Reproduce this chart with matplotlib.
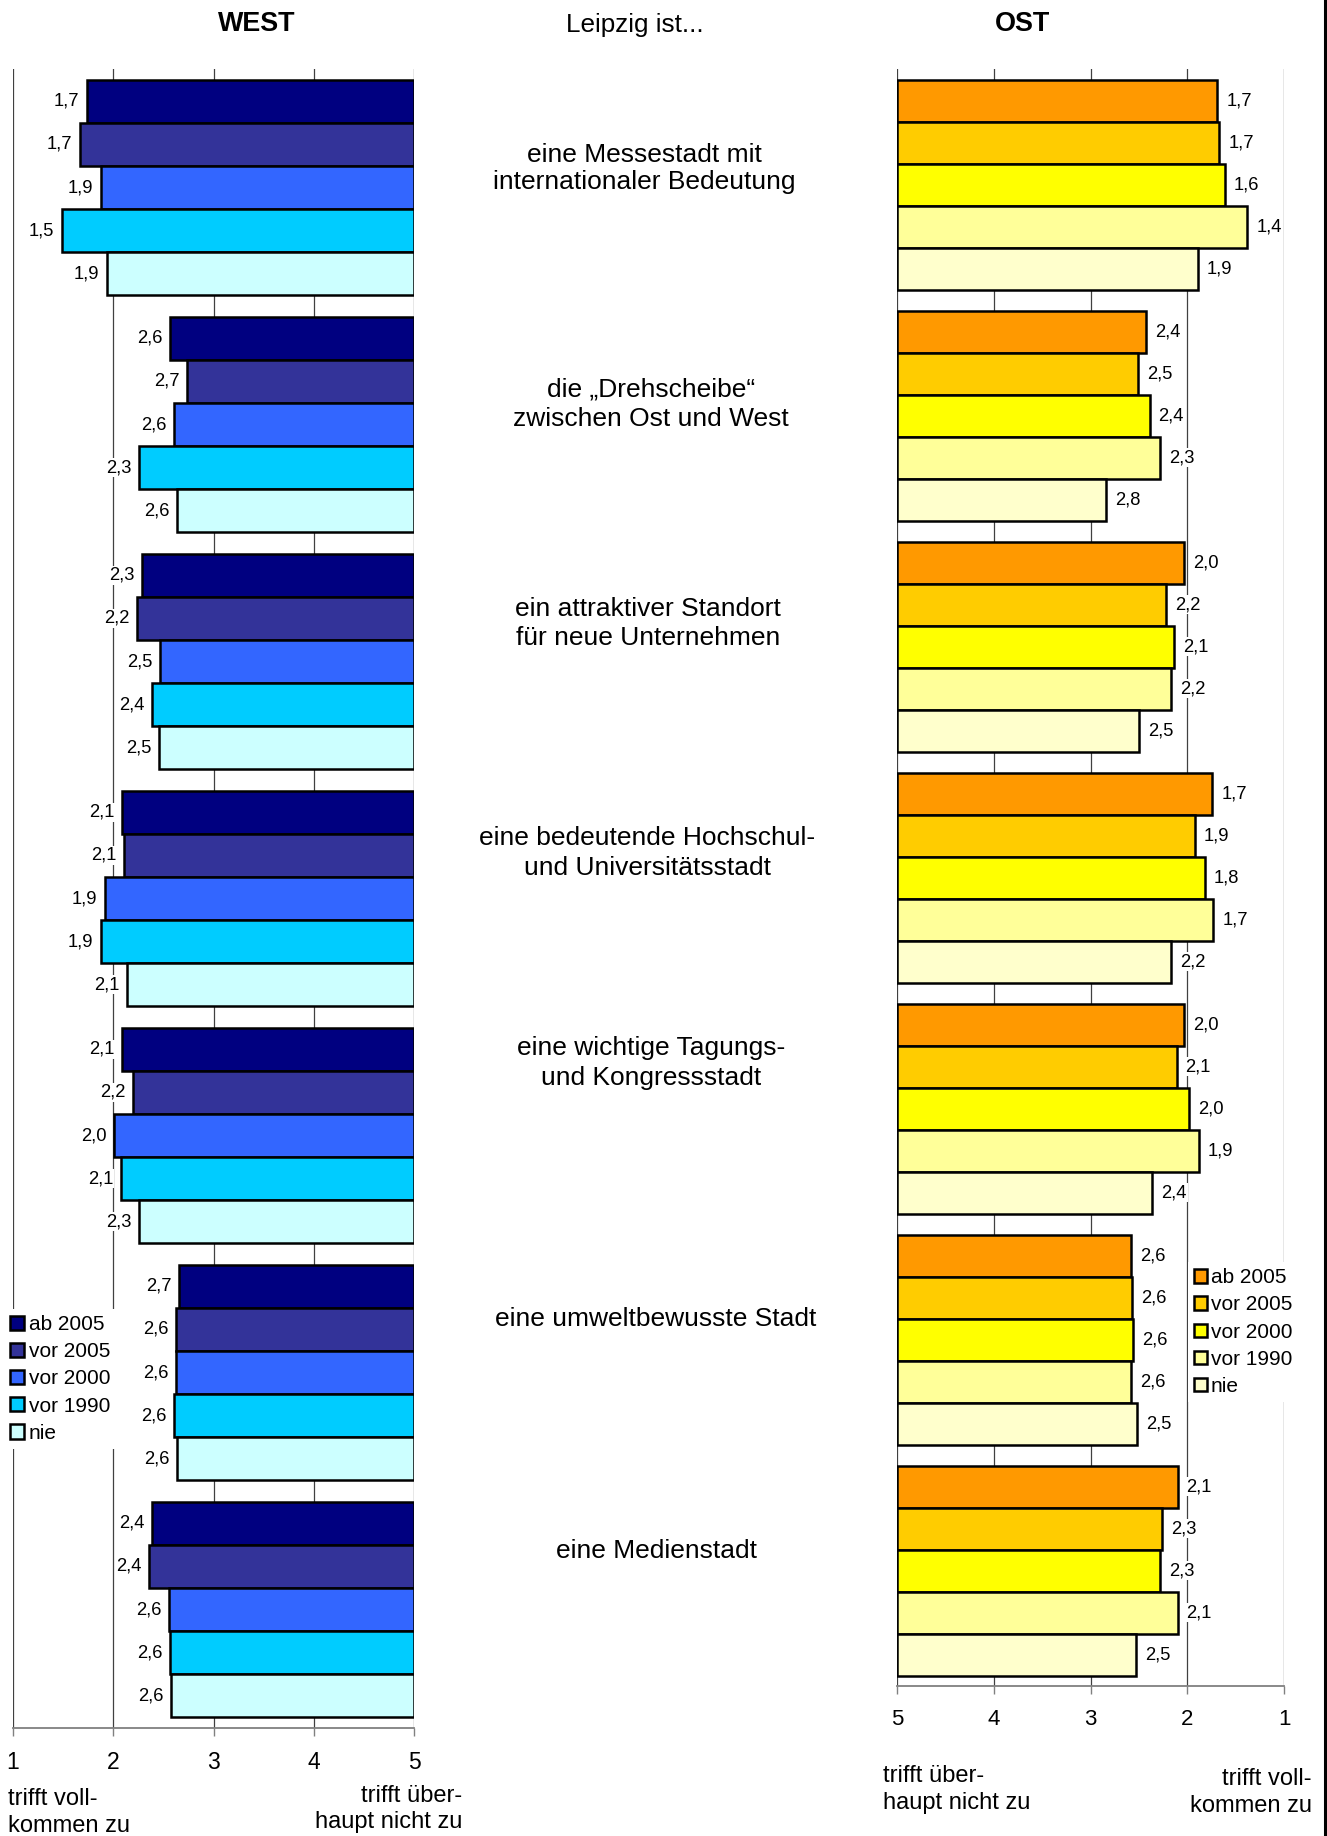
import matplotlib
matplotlib.use("Agg")
import matplotlib.pyplot as plt
from matplotlib import font_manager as fm
from matplotlib.lines import Line2D
import numpy as np

fm.fontManager.ttflist = [f for f in fm.fontManager.ttflist
                          if "narrow" not in f.fname.lower() and "narrow" not in f.name.lower()]
try:
    fm.fontManager._findfont_cached.cache_clear()
except Exception:
    pass

plt.rcParams['font.family'] = ['Liberation Sans', 'DejaVu Sans']

W, H, DPI = 1327, 1836, 100

# ---------------- data ----------------
categories = [
    "eine Messestadt mit\ninternationaler Bedeutung",
    "die \u201eDrehscheibe\u201c\nzwischen Ost und West",
    "ein attraktiver Standort\nfür neue Unternehmen",
    "eine bedeutende Hochschul-\nund Universitätsstadt",
    "eine wichtige Tagungs-\nund Kongressstadt",
    "eine umweltbewusste Stadt",
    "eine Medienstadt",
]
series = ["ab 2005", "vor 2005", "vor 2000", "vor 1990", "nie"]

west_ab2005 = [1.74, 2.57, 2.29, 2.09, 2.09, 2.66, 2.39]
west_vor2005 = [1.67, 2.74, 2.24, 2.11, 2.20, 2.63, 2.36]
west_vor2000 = [1.88, 2.61, 2.47, 1.92, 2.01, 2.63, 2.56]
west_vor1990 = [1.49, 2.26, 2.39, 1.88, 2.08, 2.61, 2.57]
west_nie = [1.94, 2.64, 2.46, 2.14, 2.26, 2.64, 2.58]

ost_ab2005 = [1.69, 2.43, 2.03, 1.74, 2.03, 2.58, 2.10]
ost_vor2005 = [1.67, 2.51, 2.22, 1.92, 2.11, 2.57, 2.26]
ost_vor2000 = [1.61, 2.39, 2.14, 1.82, 1.98, 2.56, 2.28]
ost_vor1990 = [1.38, 2.28, 2.17, 1.73, 1.88, 2.58, 2.10]
ost_nie = [1.89, 2.84, 2.50, 2.17, 2.36, 2.52, 2.53]

scale_ticks = [1, 2, 3, 4, 5]

west_colors = ["#000080", "#333399", "#3366FF", "#00CCFF", "#CCFFFF"]
ost_colors = ["#FF9900", "#FFCC00", "#FFFF00", "#FFFF99", "#FFFFCC"]

west_data = [west_ab2005, west_vor2005, west_vor2000, west_vor1990, west_nie]
ost_data = [ost_ab2005, ost_vor2005, ost_vor2000, ost_vor1990, ost_nie]


def fx(px):
    return px / W


def fy(py):
    return 1 - py / H


def rect(left, top, right, bottom):
    return [left / W, 1 - bottom / H, (right - left) / W, (bottom - top) / H]


def fmt(v):
    return f"{v:.1f}".replace(".", ",")


fig = plt.figure(figsize=(W / DPI, H / DPI), dpi=DPI)
fig.patch.set_facecolor("white")

axW = fig.add_axes(rect(13, 69, 414, 1728))
axO = fig.add_axes(rect(897, 69, 1284, 1686))

bh = 1 / 5.5
ypos = np.arange(len(categories))


def draw_panel(ax, data, colors, side, tick_fs, tick_pad):
    for j, (vals, col, lab) in enumerate(zip(data, colors, series)):
        vals = np.array(vals)
        pos = ypos + (j - 2) * bh
        ax.barh(pos, 5 - vals, left=vals, height=bh, color=col,
                edgecolor="black", linewidth=1.8, label=lab, zorder=2)
        for v, p in zip(vals, pos):
            if side == "west":
                ax.annotate(fmt(v), xy=(v, p), xytext=(-8, 0),
                            textcoords="offset pixels", ha="right", va="center",
                            fontsize=13.2, zorder=3,
                            bbox=dict(facecolor="white", edgecolor="none", pad=0.6))
            else:
                ax.annotate(fmt(v), xy=(v, p), xytext=(9, 0),
                            textcoords="offset pixels", ha="left", va="center",
                            fontsize=13.2, zorder=3,
                            bbox=dict(facecolor="white", edgecolor="none", pad=0.6))
    ax.set_ylim(len(categories) - 0.5, -0.5)
    if side == "west":
        ax.set_xlim(1, 5)
    else:
        ax.set_xlim(5, 1)
    ax.set_xticks(scale_ticks)
    ax.set_xticklabels([str(t) for t in scale_ticks])
    ax.set_yticks([])
    ax.grid(axis="x", color="#404040", linewidth=0.9)
    ax.set_axisbelow(True)
    for s in ["left", "right", "top"]:
        ax.spines[s].set_visible(False)
    ax.spines["bottom"].set_color("#808080")
    ax.spines["bottom"].set_linewidth(1.3)
    ax.tick_params(axis="x", direction="out", length=5.5, width=1.0,
                   color="#808080", labelsize=tick_fs, pad=tick_pad)
    ax.set_facecolor("none")


draw_panel(axW, west_data, west_colors, "west", 16.5, 11)
draw_panel(axO, ost_data, ost_colors, "ost", 16, 11)

# legends
legW = axW.legend(loc="center left", bbox_to_anchor=(fx(4), fy(1379)),
                  bbox_transform=fig.transFigure, fontsize=15, frameon=True,
                  facecolor="white", edgecolor="none", framealpha=1, fancybox=False,
                  handlelength=0.68, handleheight=0.68, handletextpad=0.22,
                  labelspacing=0.39, borderpad=0.3, borderaxespad=0)
legO = axO.legend(loc="center left", bbox_to_anchor=(fx(1188), fy(1332)),
                  bbox_transform=fig.transFigure, fontsize=15, frameon=True,
                  facecolor="white", edgecolor="none", framealpha=1, fancybox=False,
                  handlelength=0.6, handleheight=0.6, handletextpad=0.2,
                  labelspacing=0.39, borderpad=0.3, borderaxespad=0)
for leg in (legW, legO):
    for h in leg.legend_handles:
        h.set_linewidth(1.8)
        h.set_edgecolor("black")

# titles
fig.text(fx(257), fy(24), "WEST", ha="center", va="center", fontsize=19.4, fontweight="bold")
fig.text(fx(1022), fy(24), "OST", ha="center", va="center", fontsize=19.4, fontweight="bold")
fig.text(fx(635), fy(25), "Leipzig ist...", ha="center", va="center", fontsize=18.8)

# category texts in the middle
cat_x = [644, 651, 648, 647, 651, 656, 657]
cat_baselines = [[162, 189], [397, 426], [616, 645], [845, 875], [1055, 1085], [1326], [1558]]
for cat, cx, bls in zip(categories, cat_x, cat_baselines):
    for line, bl in zip(cat.split("\n"), bls):
        fig.text(fx(cx), fy(bl), line, ha="center", va="baseline", fontsize=19)

# scale end labels
fig.text(fx(8), fy(1805), "trifft voll-", ha="left", va="baseline", fontsize=17)
fig.text(fx(8), fy(1832), "kommen zu", ha="left", va="baseline", fontsize=17)
fig.text(fx(462), fy(1802), "trifft über-", ha="right", va="baseline", fontsize=17)
fig.text(fx(462), fy(1828), "haupt nicht zu", ha="right", va="baseline", fontsize=17)
fig.text(fx(883), fy(1782), "trifft über-", ha="left", va="baseline", fontsize=17)
fig.text(fx(883), fy(1809), "haupt nicht zu", ha="left", va="baseline", fontsize=17)
fig.text(fx(1312), fy(1785), "trifft voll-", ha="right", va="baseline", fontsize=17)
fig.text(fx(1312), fy(1812), "kommen zu", ha="right", va="baseline", fontsize=17)

# right border line
fig.add_artist(Line2D([fx(1324.5), fx(1324.5)], [0, 1], transform=fig.transFigure,
                      color="black", linewidth=2.2))

fig.savefig("out.png", dpi=DPI, facecolor="white")
